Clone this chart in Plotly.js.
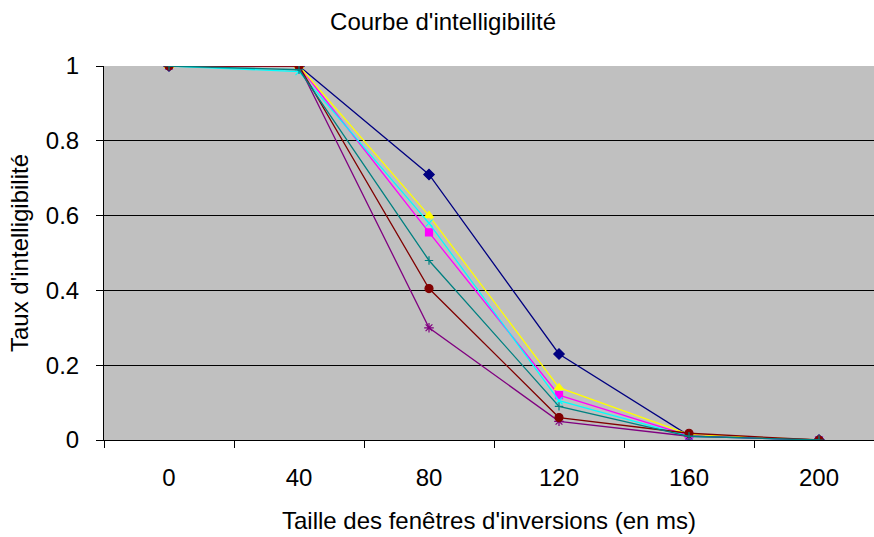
<!DOCTYPE html>
<html>
<head>
<meta charset="utf-8">
<script src="https://cdn.plot.ly/plotly-3.0.1.min.js"></script>
<style>
html,body{margin:0;padding:0;background:#fff;}
#chart{width:874px;height:537px;}
</style>
</head>
<body>
<div id="chart"></div>
<script>
// Categories (window size in ms)
const categories = ["0", "40", "80", "120", "160", "200"];

// Series values (intelligibility rate)
const seriesNavy    = [1, 1, 0.71, 0.23, 0.012, 0];
const seriesMagenta = [1, 1, 0.555, 0.12, 0.012, 0];
const seriesYellow  = [1, 1, 0.60, 0.14, 0.015, 0];
const seriesCyan    = [1, 0.985, 0.58, 0.105, 0.01, 0];
const seriesPurple  = [1, 1, 0.30, 0.05, 0.01, 0];
const seriesDarkRed = [1, 1, 0.405, 0.06, 0.018, 0];
const seriesTeal    = [1, 0.99, 0.48, 0.09, 0.01, 0];

const yTickVals = [0, 0.2, 0.4, 0.6, 0.8, 1];
const yTickText = ["0", "0.2", "0.4", "0.6", "0.8", "1"];

const FONT = "Liberation Sans, Arial, sans-serif";

function tr(y, color, symbol, size) {
  return {
    x: categories, y: y, type: "scatter", mode: "lines+markers",
    line: {color: color, width: 1.3},
    marker: {color: color, symbol: symbol, size: size || 7,
             line: {color: color, width: 1.2}},
    showlegend: false, hoverinfo: "skip"
  };
}

const data = [
  tr(seriesNavy, "#000080", "diamond", 8),
  tr(seriesMagenta, "#FF00FF", "square", 7),
  tr(seriesYellow, "#FFFF00", "triangle-up", 8),
  tr(seriesCyan, "#00FFFF", "x-thin", 7),
  tr(seriesPurple, "#800080", "asterisk", 8),
  tr(seriesDarkRed, "#800000", "circle", 8),
  tr(seriesTeal, "#008080", "cross-thin", 6)
];

const layout = {
  width: 874, height: 537,
  paper_bgcolor: "#ffffff",
  plot_bgcolor: "#C0C0C0",
  margin: {l: 104, r: 0, t: 66, b: 97, pad: 0},
  font: {family: FONT, size: 24, color: "#000"},
  title: {text: "Courbe d'intelligibilité", font: {family: FONT, size: 24, color: "#000"},
          x: 0.507, xref: "container", xanchor: "center", y: 0.96, yref: "container", yanchor: "middle"},
  xaxis: {
    type: "category", categoryorder: "array", categoryarray: categories,
    range: [-0.5, -0.5 + 770 / 130],
    showgrid: false, zeroline: false,
    showline: true, linecolor: "#000", linewidth: 1,
    ticks: "outside", tickson: "boundaries", ticklen: 7, tickcolor: "#000", tickwidth: 1,
    ticklabelstandoff: 16,
    tickfont: {family: FONT, size: 24, color: "#000"},
    title: {text: "Taille des fenêtres d'inversions (en ms)", font: {family: FONT, size: 24, color: "#000"}, standoff: 22},
    fixedrange: true
  },
  yaxis: {
    range: [0, 1],
    tickvals: yTickVals, ticktext: yTickText,
    showgrid: true, gridcolor: "#000", gridwidth: 1,
    zeroline: false,
    showline: true, linecolor: "#000", linewidth: 1,
    ticks: "outside", ticklen: 7, tickcolor: "#000", tickwidth: 1,
    ticklabelstandoff: 12,
    tickfont: {family: FONT, size: 24, color: "#000"},
    title: {text: "Taux d'intelligibilité", font: {family: FONT, size: 24, color: "#000"}, standoff: 10},
    fixedrange: true
  }
};

Plotly.newPlot("chart", data, layout, {staticPlot: true, displayModeBar: false});
</script>
</body>
</html>
